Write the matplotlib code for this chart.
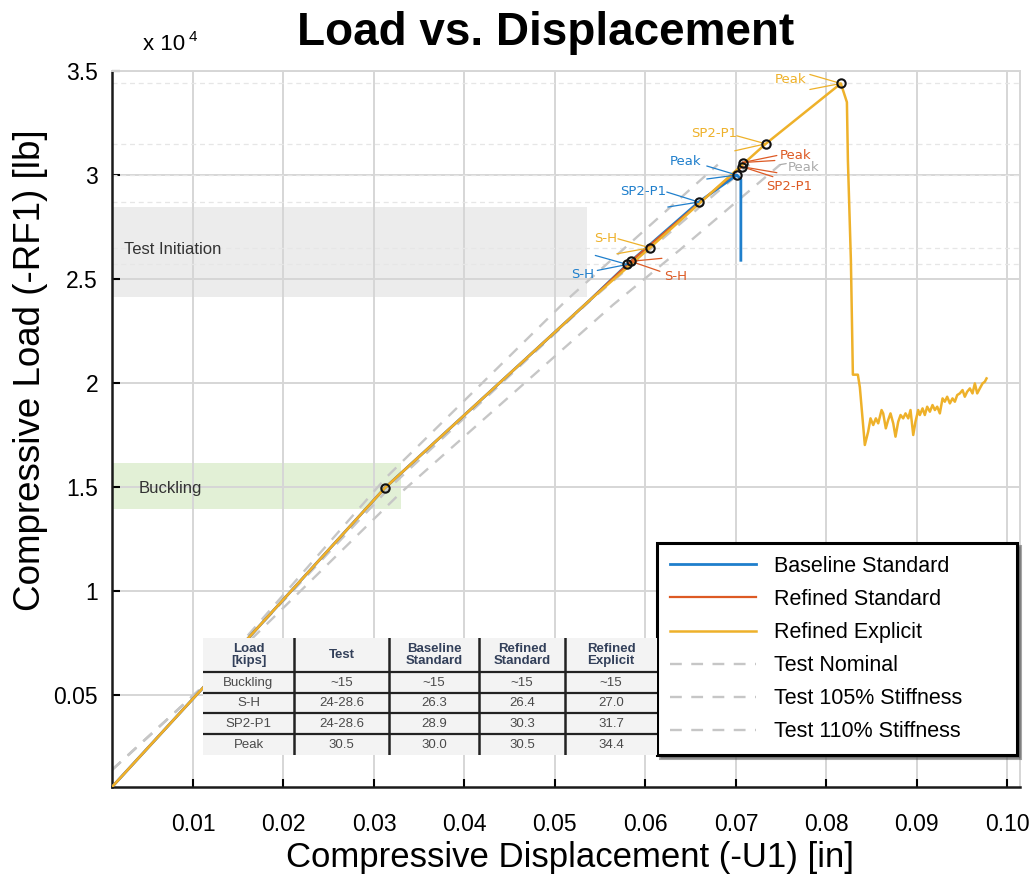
import matplotlib

matplotlib.use("Agg")
import matplotlib.pyplot as plt
from matplotlib.patches import Rectangle

plt.rcParams["font.family"] = ["Liberation Sans", "DejaVu Sans"]

# displacement [in] and compressive load [lb]
base_x = [0.00105, 0.0119, 0.0312, 0.0539, 0.0580, 0.0659, 0.0701, 0.07055, 0.07055]
base_y = [580, 5720, 14950, 24000, 25700, 28700, 30000, 29800, 25900]

rs_x = [0.00105, 0.0119, 0.0312, 0.0539, 0.0584, 0.07066, 0.07077]
rs_y = [580, 5720, 14950, 24000, 25850, 30400, 30600]

re_x = [0.00105, 0.0119, 0.0312, 0.0539, 0.0605, 0.0733, 0.0816, 0.08227, 0.08238,
        0.08271, 0.08293, 0.08348, 0.0837, 0.08425, 0.08462, 0.08488, 0.08518, 0.08547,
        0.08573, 0.08610, 0.08628, 0.08657, 0.08683, 0.08709, 0.08739, 0.08764, 0.08794,
        0.08820, 0.08849, 0.08875, 0.08905, 0.08930, 0.08960, 0.08985, 0.09015, 0.09033,
        0.09063, 0.09088, 0.09114, 0.09144, 0.09173, 0.09199, 0.09225, 0.09254, 0.09284,
        0.09309, 0.09335, 0.09365, 0.09394, 0.09420, 0.09446, 0.09475, 0.09505, 0.09530,
        0.09556, 0.09586, 0.09615, 0.09641, 0.09667, 0.09696, 0.09726, 0.09751, 0.09770]
re_y = [580, 5720, 14950, 24000, 26500, 31500, 34400, 33500, 30700,
        25900, 20400, 20400, 19800, 17020, 17660, 18300, 17980, 18300,
        18060, 18700, 18540, 17820, 18220, 18540, 18060, 17420, 18140,
        18460, 18300, 18540, 18300, 18700, 17500, 18140, 18700, 18460,
        18780, 18460, 18860, 18620, 18940, 18700, 18860, 18540, 19260,
        19100, 19340, 19020, 19260, 19100, 19420, 19500, 19660, 19340,
        19580, 19740, 19500, 19980, 19500, 19740, 19980, 20060, 20220]

test_nom_x = [0.00105, 0.0111, 0.0329, 0.0564, 0.0638, 0.0749]
test_nom_y = [1400, 5400, 14700, 23750, 26400, 30500]
test_105_x = [0.00105, 0.0111, 0.0318, 0.0540, 0.0715]
test_105_y = [1400, 5400, 15000, 24000, 30500]
test_110_x = [0.00105, 0.0111, 0.0314, 0.0513, 0.0680]
test_110_y = [1400, 5400, 15480, 23990, 30500]

# labelled points (x, y) per model
buckling_pt = (0.0312, 14950)
base_pts = {"S-H": (0.0580, 25700), "SP2-P1": (0.0659, 28700), "Peak": (0.0701, 30000)}
rs_pts = {"S-H": (0.0584, 25850), "SP2-P1": (0.07066, 30400), "Peak": (0.07077, 30600)}
re_pts = {"S-H": (0.0605, 26500), "SP2-P1": (0.0733, 31500), "Peak": (0.0816, 34400)}
test_peak_pt = (0.0749, 30500)

# shaded bands: (x end, y low, y high)
init_band = (0.0535, 24130, 28460)
buck_band = (0.0330, 13940, 16150)

yticks = [5000, 10000, 15000, 20000, 25000, 30000, 35000]
ytick_labels = ["0.05", "1", "1.5", "2", "2.5", "3", "3.5"]
xticks = [0.01, 0.02, 0.03, 0.04, 0.05, 0.06, 0.07, 0.08, 0.09, 0.10]
xtick_labels = ["0.01", "0.02", "0.03", "0.04", "0.05", "0.06", "0.07", "0.08", "0.09", "0.10"]

table_cols = ["Load\n[kips]", "Test", "Baseline\nStandard", "Refined\nStandard", "Refined\nExplicit"]
table_rows = [
    ["Buckling", "~15", "~15", "~15", "~15"],
    ["S-H", "24-28.6", "26.3", "26.4", "27.0"],
    ["SP2-P1", "24-28.6", "28.9", "30.3", "31.7"],
    ["Peak", "30.5", "30.0", "30.5", "34.4"],
]

BLUE = "#1f7fcc"
RED = "#dd5a24"
ORANGE = "#eeb12a"
GRAY = "#c6c6c6"

fig = plt.figure(figsize=(10.29, 8.84), dpi=100)
ax = fig.add_axes([112 / 1029, 1 - 787 / 884, 908 / 1029, 716 / 884])
ax.set_xlim(0.00105, 0.1014)
ax.set_ylim(577, 35000)

x0 = ax.get_xlim()[0]
ax.add_patch(Rectangle((x0, init_band[1]), init_band[0] - x0, init_band[2] - init_band[1],
                       color="#ececec", zorder=0.5, lw=0))
ax.add_patch(Rectangle((x0, buck_band[1]), buck_band[0] - x0, buck_band[2] - buck_band[1],
                       color="#e2f0d6", zorder=0.5, lw=0))
ax.text(0.0024, 26400, "Test Initiation", fontsize=12, color="#333333", va="center")
ax.text(0.0040, 14950, "Buckling", fontsize=12, color="#333333", va="center")

ax.grid(True, color="#d6d6d6", lw=1.4, zorder=0.6)
ax.set_axisbelow(True)
for pts in (re_pts, base_pts):
    for k in ("S-H", "SP2-P1", "Peak"):
        ax.axhline(pts[k][1], color="#e6e6e6", lw=0.9, ls=(0, (4, 3)), zorder=0.7)

dash = dict(color=GRAY, lw=1.7, dashes=(5, 4), zorder=2)
l_nom, = ax.plot(test_nom_x, test_nom_y, label="Test Nominal", **dash)
l_105, = ax.plot(test_105_x, test_105_y, label="Test 105% Stiffness", **dash)
l_110, = ax.plot(test_110_x, test_110_y, label="Test 110% Stiffness", **dash)

l_b, = ax.plot(base_x, base_y, color=BLUE, lw=2.0, label="Baseline Standard", zorder=3)
l_r, = ax.plot(rs_x, rs_y, color=RED, lw=1.6, label="Refined Standard", zorder=3.1)
l_e, = ax.plot(re_x, re_y, color=ORANGE, lw=1.8, label="Refined Explicit", zorder=3.2)

mk = [buckling_pt] + list(base_pts.values()) + list(rs_pts.values()) + list(re_pts.values())
ax.plot([p[0] for p in mk], [p[1] for p in mk], "o", ms=6, mfc="none", mec="#111111",
        mew=1.5, ls="none", zorder=5)


def tag(pt, text, color, text_off, leads):
    for off in leads:
        ax.annotate("", xy=pt, xytext=off, textcoords="offset pixels",
                    arrowprops=dict(arrowstyle="-", color=color, lw=0.9,
                                    shrinkA=0, shrinkB=0), zorder=4)
    ax.annotate(text, xy=pt, xytext=text_off, textcoords="offset pixels",
                ha="center", va="center", color=color, fontsize=9.5,
                family="DejaVu Sans", zorder=4)


tag(re_pts["Peak"], "Peak", ORANGE, (-50, 4), [(-31, 9), (-31, -6)])
tag(re_pts["SP2-P1"], "SP2-P1", ORANGE, (-52, 10), [(-29, 8), (-31, -7)])
tag(re_pts["S-H"], "S-H", ORANGE, (-44, 9), [(-32, 9), (-33, -6)])
tag(base_pts["Peak"], "Peak", BLUE, (-51, 14), [(-30, 9), (-30, -4)])
tag(base_pts["SP2-P1"], "SP2-P1", BLUE, (-56, 11), [(-32, 10), (-31, -5)])
tag(base_pts["S-H"], "S-H", BLUE, (-45, -10), [(-32, 9), (-30, -6)])
tag(rs_pts["S-H"], "S-H", RED, (45, -15), [(31, 3), (29, -10)])
tag(rs_pts["Peak"], "Peak", RED, (53, 7), [(34, 7), (32, 2)])
tag(rs_pts["SP2-P1"], "SP2-P1", RED, (47, -20), [(35, -6), (31, -10)])
tag(test_peak_pt, "Peak", "#aaaaaa", (23, -3), [(6, 1)])

ax.set_yticks(yticks)
ax.set_yticklabels(ytick_labels)
ax.set_xticks(xticks)
ax.set_xticklabels(xtick_labels)
ax.tick_params(direction="in", length=6, width=1.5, labelsize=16.5)
ax.tick_params(axis="x", pad=19)
ax.tick_params(axis="y", pad=10)
for s in ("left", "bottom"):
    ax.spines[s].set_linewidth(1.8)
    ax.spines[s].set_color("#1a1a1a")
for s in ("top", "right"):
    ax.spines[s].set_color("#d6d6d6")
    ax.spines[s].set_linewidth(1.4)

leg = ax.legend(handles=[l_b, l_r, l_e, l_nom, l_105, l_110], loc="upper left",
                bbox_to_anchor=(0.600, 0.0447, 0.3965, 0.296), mode="expand",
                borderaxespad=0, fontsize=15.5, handlelength=4.0, labelspacing=0.56,
                handletextpad=0.85, fancybox=False, shadow=True, framealpha=1,
                edgecolor="black", borderpad=0.6)
leg.get_frame().set_linewidth(2.2)
leg.set_zorder(6)

fig.text(546 / 1029, 1 - 33 / 884, "Load vs. Displacement", ha="center", va="center",
         fontsize=33, weight="bold")
fig.text(143 / 1029, 1 - 45 / 884, "x 10", fontsize=16, va="center")
fig.text(189 / 1029, 1 - 37 / 884, "4", fontsize=11, va="center")
fig.text(570 / 1029, 1 - 858 / 884, "Compressive Displacement (-U1) [in]", ha="center",
         va="center", fontsize=25)
fig.text(31 / 1029, 1 - 370 / 884, "Compressive Load (-RF1) [lb]", ha="center",
         va="center", fontsize=26.5, rotation=90)

# summary table drawn in pixel coordinates
tx = [203, 294, 389, 479, 565, 657]
ty = [638, 672, 693, 713, 734, 755]
tab = fig.add_axes([tx[0] / 1029, 1 - ty[-1] / 884, (tx[-1] - tx[0]) / 1029,
                    (ty[-1] - ty[0]) / 884], zorder=7)
tab.set_xlim(tx[0], tx[-1])
tab.set_ylim(ty[-1], ty[0])
tab.axis("off")
tab.add_patch(Rectangle((tx[0], ty[0]), tx[-1] - tx[0], ty[-1] - ty[0],
                        color="#f3f3f3", lw=0))
for yy in ty[1:-1]:
    tab.plot([tx[0], tx[-1]], [yy, yy], color="#222222", lw=1.6)
for xx in tx[1:-1]:
    tab.plot([xx, xx], [ty[0], ty[-1]], color="#222222", lw=1.8)
for j, name in enumerate(table_cols):
    tab.text((tx[j] + tx[j + 1]) / 2, (ty[0] + ty[1]) / 2, name, ha="center",
             va="center", fontsize=9.5, weight="bold", color="#33405a", linespacing=1.0)
for i, row in enumerate(table_rows):
    for j, val in enumerate(row):
        tab.text((tx[j] + tx[j + 1]) / 2, (ty[i + 1] + ty[i + 2]) / 2 + 0.5, val,
                 ha="center", va="center", fontsize=9.5, color="#4a4a4a")

fig.savefig("out.png", dpi=100)
